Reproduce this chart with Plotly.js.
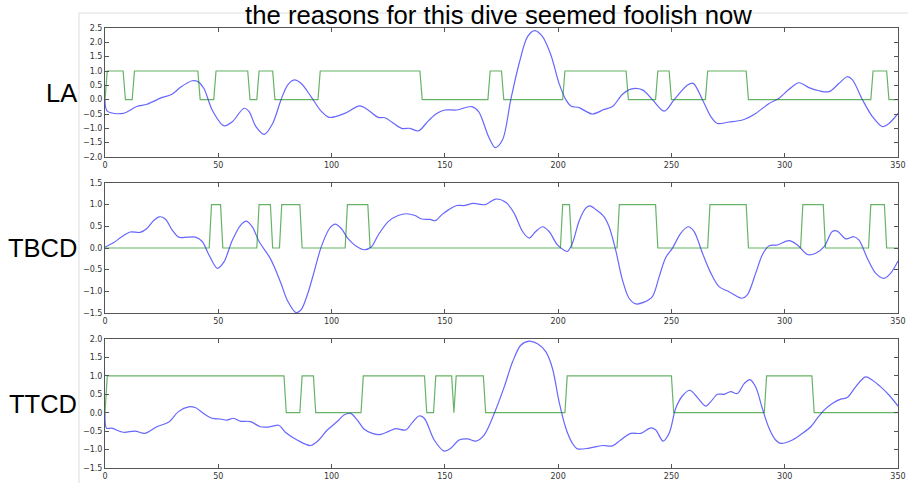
<!DOCTYPE html>
<html>
<head>
<meta charset="utf-8">
<script src="https://cdn.plot.ly/plotly-3.0.1.min.js"></script>
<style>
  html, body { margin: 0; padding: 0; background: #fff; }
  #chart { width: 908px; height: 483px; }
</style>
</head>
<body>
<div id="chart"></div>
<script>
// ---- LA ----
const laX    = [0, 1, 8, 14, 18.5, 25, 29.6, 33.3, 38.5, 40.7, 43.6, 47.3, 52.5, 56.2, 61.4, 63.6, 66.6, 70.3, 74, 77.7, 80.6, 83.6, 86.5, 91, 95.4, 99.1, 105.8, 112.4, 116.1, 120.6, 123.5, 130.9, 134.6, 138.3, 142.8, 146.4, 150.1, 155.3, 161.9, 164.9, 169.3, 172.2, 175.4, 179.1, 182.8, 186.5, 189.7, 193.1, 196.8, 200.4, 203.4, 205.6, 209.3, 215.1, 220.3, 224, 228.4, 232.1, 237.2, 241.6, 246.8, 251.2, 257.1, 259.6, 263.7, 267.4, 270.3, 275.4, 281.3, 287.2, 293.1, 297.5, 301.9, 306.3, 310.7, 315.1, 319.6, 324, 327.6, 329.9, 334.3, 338.7, 343.1, 346, 350];
const laBlue = [0, -0.4, -0.48, -0.24, -0.16, 0.07, 0.19, 0.43, 0.66, 0.64, 0.4, -0.36, -0.91, -0.77, -0.3, -0.42, -0.94, -1.21, -0.83, 0, 0.51, 0.69, 0.57, 0.1, -0.4, -0.62, -0.48, -0.22, -0.36, -0.62, -0.63, -1.0, -1.0, -1.09, -0.73, -0.48, -0.36, -0.36, -0.24, -0.42, -1.29, -1.67, -1.41, 0, 1.27, 2.2, 2.41, 2.2, 1.56, 0.57, 0, -0.22, -0.28, -0.5, -0.34, -0.24, 0.19, 0.37, 0.34, 0, -0.4, 0, 0.51, 0.57, 0, -0.59, -0.83, -0.78, -0.71, -0.48, -0.13, 0.05, 0.36, 0.59, 0.42, 0.31, 0.28, 0.57, 0.8, 0.69, 0, -0.59, -0.94, -0.83, -0.48];
const laStepX = [0, 1, 8, 9, 12, 13, 41, 42, 48, 49, 63, 64, 67, 68, 74, 75, 94, 95, 139, 140, 169, 170, 175, 176, 202, 203, 230, 231, 243, 244, 249, 250, 265, 266, 283, 284, 338, 339, 345, 346, 350];
const laStepY = [0, 1, 1, 0, 0, 1, 1, 0, 0, 1, 1, 0, 0, 1, 1, 0, 0, 1, 1, 0, 0, 1, 1, 0, 0, 1, 1, 0, 0, 1, 1, 0, 0, 1, 1, 0, 0, 1, 1, 0, 0];

// ---- TBCD ----
const tbX    = [0, 3.7, 7.4, 11.1, 15.5, 18.5, 21.4, 24, 26.6, 29.6, 32.5, 36.2, 39.9, 42.9, 45.9, 49.6, 52.5, 56.2, 59.9, 62.4, 65.1, 68, 72.5, 74.7, 77.7, 80.6, 84.3, 86.5, 89.5, 92.5, 95.4, 99.1, 101.6, 104.3, 107.2, 110.9, 114.6, 117.6, 120.6, 125, 129.4, 133.1, 136.8, 139.8, 143.5, 145.7, 148.7, 151.6, 155.3, 158.3, 162.7, 167.8, 172.5, 177, 180.6, 184.3, 187.2, 190.1, 193.1, 196, 199.7, 202.6, 204.1, 206.3, 209.3, 212.2, 214, 216.6, 220.3, 222.5, 225.4, 228.4, 231.3, 234.3, 237.9, 241.6, 244.6, 247.5, 250.4, 254.1, 257.4, 260, 263.7, 267.4, 271, 275.4, 281, 283.5, 287.2, 290.1, 293.1, 296.8, 301.9, 305.6, 310, 313.7, 317.4, 321, 323.2, 326.9, 330.6, 332.8, 336.5, 340.1, 343.8, 346.8, 350];
const tbBlue = [0.02, 0.12, 0.26, 0.37, 0.36, 0.45, 0.63, 0.72, 0.67, 0.42, 0.25, 0.25, 0.25, 0.15, -0.16, -0.47, -0.32, 0.18, 0.53, 0.62, 0.48, 0.15, -0.2, -0.43, -0.82, -1.22, -1.49, -1.43, -1.05, -0.51, 0.02, 0.45, 0.55, 0.45, 0.22, 0.04, -0.04, 0.03, 0.3, 0.61, 0.75, 0.79, 0.75, 0.67, 0.66, 0.63, 0.77, 0.88, 0.98, 0.98, 1.03, 1.0, 1.13, 1.05, 0.8, 0.38, 0.23, 0.38, 0.49, 0.38, 0.07, -0.05, -0.08, 0.11, 0.63, 0.92, 0.97, 0.89, 0.72, 0.49, -0.05, -0.74, -1.16, -1.29, -1.25, -1.12, -0.66, -0.22, -0.01, 0.34, 0.49, 0.38, -0.12, -0.58, -0.89, -1.01, -1.16, -1.08, -0.58, -0.16, 0.05, 0.07, 0.17, 0.07, -0.15, -0.12, 0.03, 0.38, 0.39, 0.21, 0.26, 0.18, -0.24, -0.58, -0.7, -0.58, -0.3];
const tbStepX = [0, 46, 47, 51, 52, 67, 68, 73, 74, 77, 78, 86, 87, 106, 107, 116, 117, 201, 202, 205, 206, 226, 227, 243, 244, 266, 267, 283, 284, 307, 308, 317, 318, 337, 338, 344, 345, 350];
const tbStepY = [0, 0, 1, 1, 0, 0, 1, 1, 0, 0, 1, 1, 0, 0, 1, 1, 0, 0, 1, 1, 0, 0, 1, 1, 0, 0, 1, 1, 0, 0, 1, 1, 0, 0, 1, 1, 0, 0];

// ---- TTCD ----
const ttX    = [0, 0.7, 2.9, 8.1, 13.3, 17.7, 22.9, 28, 32.4, 36.9, 39.8, 43.5, 47.2, 50.9, 53.8, 56.8, 59.7, 64.2, 68.6, 73, 76.7, 79.6, 84.8, 90.7, 94.4, 98.1, 102.5, 105.5, 108.4, 111.4, 114.3, 118, 121.7, 125.4, 128.3, 132.7, 135.7, 138.6, 140.9, 145.3, 149.7, 152.7, 156.3, 160, 163.7, 167.4, 171.8, 176.2, 179.9, 183.5, 187.2, 190.9, 194.6, 197.5, 200.4, 203.4, 206.3, 208.5, 213.7, 219.6, 224, 227.6, 232.1, 236.5, 240.9, 243.1, 246.3, 249, 251.9, 254.9, 258.1, 261.5, 265.1, 267.4, 270.3, 273.2, 276.2, 279.1, 282.1, 284.6, 287.2, 290.1, 293.1, 296, 298.2, 303.4, 307.8, 311.5, 314.4, 317.4, 321, 324.7, 327.6, 331.3, 335.7, 338.7, 342.4, 346, 350];
const ttBlue = [0, -0.42, -0.42, -0.53, -0.5, -0.56, -0.38, -0.26, 0.03, 0.16, 0.14, -0.02, -0.15, -0.17, -0.2, -0.15, -0.23, -0.24, -0.38, -0.38, -0.34, -0.53, -0.74, -0.89, -0.74, -0.47, -0.24, -0.06, -0.02, -0.2, -0.44, -0.56, -0.59, -0.5, -0.43, -0.47, -0.26, -0.09, -0.15, -0.74, -1.04, -0.96, -0.74, -0.71, -0.77, -0.6, -0.02, 0.7, 1.38, 1.83, 1.94, 1.87, 1.65, 1.2, 0.3, -0.42, -0.83, -0.98, -0.96, -0.89, -0.9, -0.74, -0.56, -0.56, -0.41, -0.47, -0.77, -0.56, 0.12, 0.46, 0.61, 0.41, 0.18, 0.3, 0.5, 0.5, 0.57, 0.52, 0.79, 0.9, 0.7, 0.12, -0.42, -0.74, -0.83, -0.74, -0.56, -0.38, -0.15, 0.07, 0.25, 0.37, 0.41, 0.7, 0.97, 0.88, 0.7, 0.48, 0.18];
const ttStepX = [0, 1, 79, 80, 86, 87, 92, 93, 113, 114, 141, 142, 145, 146, 153, 154, 155, 167, 168, 203, 204, 250, 251, 291, 292, 312, 313, 350];
const ttStepY = [0, 1, 1, 0, 0, 1, 1, 0, 0, 1, 1, 0, 0, 1, 1, 0, 1, 1, 0, 0, 1, 1, 0, 0, 1, 1, 0, 0];

const panelNames = ['LA', 'TBCD', 'TTCD'];
const xTicks = [0, 50, 100, 150, 200, 250, 300, 350];
const yRanges = [[-2.0, 2.5], [-1.5, 1.5], [-1.5, 2.0]];
const chartTitle = 'the reasons for this dive seemed foolish now';

const BLUE = 'rgba(0,0,255,0.6)';
const GREEN = 'rgba(0,128,0,0.6)';

const series = [
  [laX, laBlue, laStepX, laStepY],
  [tbX, tbBlue, tbStepX, tbStepY],
  [ttX, ttBlue, ttStepX, ttStepY]
];

const traces = [];
series.forEach(([bx, by, sx, sy], i) => {
  const xa = i === 0 ? 'x' : 'x' + (i + 1);
  const ya = i === 0 ? 'y' : 'y' + (i + 1);
  traces.push({
    x: bx, y: by, xaxis: xa, yaxis: ya, type: 'scatter', mode: 'lines',
    line: { color: BLUE, width: 1.2, shape: 'spline', smoothing: 0.9 },
    hoverinfo: 'skip', showlegend: false
  });
  traces.push({
    x: sx, y: sy, xaxis: xa, yaxis: ya, type: 'scatter', mode: 'lines',
    line: { color: GREEN, width: 1.2 },
    hoverinfo: 'skip', showlegend: false
  });
});

const W = 908, H = 483;
const xDom = [105 / W, 898 / W];
// panel pixel extents (top, bottom)
const boxes = [[28, 157], [183, 313], [339, 468]];

const tickFont = { family: 'DejaVu Sans, sans-serif', size: 8, color: '#333' };
const axisCommon = {
  showline: true, linecolor: '#555', linewidth: 1, mirror: 'ticks',
  ticks: 'inside', ticklen: 4, tickwidth: 1, tickcolor: '#555',
  showgrid: false, zeroline: false, tickfont: tickFont, fixedrange: true
};

const layout = {
  width: W, height: H,
  margin: { l: 0, r: 0, t: 0, b: 0 },
  paper_bgcolor: '#fff', plot_bgcolor: '#fff',
  title: {
    text: chartTitle,
    font: { family: 'Liberation Sans, Arial, sans-serif', size: 25.7, color: '#000' },
    x: 0.549, xanchor: 'center', y: 1 - 15 / H, yanchor: 'middle'
  },
  annotations: [],
  shapes: [
    { type: 'line', xref: 'paper', yref: 'paper', x0: 79 / W, x1: 1, y0: 1 - 13 / H, y1: 1 - 13 / H,
      line: { color: '#ddd', width: 1 }, layer: 'below' },
    { type: 'line', xref: 'paper', yref: 'paper', x0: 79 / W, x1: 79 / W, y0: 0, y1: 1 - 13 / H,
      line: { color: '#ddd', width: 1 }, layer: 'below' }
  ]
};

boxes.forEach(([top, bottom], i) => {
  const sfx = i === 0 ? '' : String(i + 1);
  const yd = [1 - bottom / H, 1 - top / H];
  layout['xaxis' + sfx] = Object.assign({}, axisCommon, {
    domain: xDom, range: [0, 350], anchor: 'y' + sfx,
    tickvals: xTicks, ticktext: xTicks.map(String)
  });
  layout['yaxis' + sfx] = Object.assign({}, axisCommon, {
    domain: yd, range: yRanges[i], anchor: 'x' + sfx, dtick: 0.5, tickformat: '.1f'
  });
  layout.annotations.push({
    text: panelNames[i], xref: 'paper', yref: 'paper',
    x: 79 / W, xanchor: 'right', y: (yd[0] + yd[1]) / 2, yanchor: 'middle',
    showarrow: false,
    font: { family: 'Liberation Sans, Arial, sans-serif', size: 25.5, color: '#000' }
  });
});

Plotly.newPlot('chart', traces, layout, { staticPlot: true, displayModeBar: false });
</script>
</body>
</html>
